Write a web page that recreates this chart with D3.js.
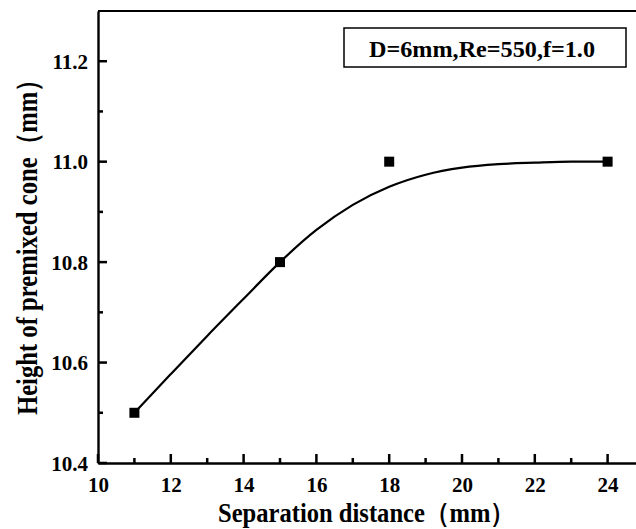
<!DOCTYPE html>
<html>
<head>
<meta charset="utf-8">
<script src="https://cdn.jsdelivr.net/npm/d3@7"></script>
<style>
  html, body { margin: 0; padding: 0; background: #fff; }
  svg { display: block; }
  text { font-family: "Liberation Serif", "Times New Roman", serif; font-weight: bold; fill: #000; }
</style>
</head>
<body>
<svg id="chart" width="636" height="529"></svg>
<script>
// Measured cone heights
const separation = [11, 15, 18, 24];
const coneHeight = [10.5, 10.8, 11.0, 11.0];

// Fitted curve through the measurements
const fitX = [11, 12, 13, 14, 15, 16, 17, 18, 19, 20, 21, 22, 23, 24];
const fitY = [10.5, 10.577, 10.653, 10.727, 10.8, 10.864, 10.914, 10.950, 10.974, 10.988, 10.995, 10.998, 11.0, 11.0];

const xTicks = [10, 12, 14, 16, 18, 20, 22, 24];
const xMinor = [11, 13, 15, 17, 19, 21, 23];
const yTicks = [10.4, 10.6, 10.8, 11.0, 11.2];
const yMinor = [10.5, 10.7, 10.9, 11.1];
const legendText = "D=6mm,Re=550,f=1.0";
const xTitle = "Separation distance（mm）";
const yTitle = "Height of premixed cone（mm）";

const svg = d3.select("#chart");
const plotLeft = 98, plotTop = 11, plotBottom = 463, plotRight = 644;

const x = d3.scaleLinear().domain([10, 25]).range([plotLeft, plotRight]);
const y = d3.scaleLinear().domain([10.4, 11.3]).range([plotBottom, plotTop]);

const g = svg.append("g");

// top frame line
g.append("line")
  .attr("x1", plotLeft).attr("x2", plotRight)
  .attr("y1", plotTop).attr("y2", plotTop)
  .attr("stroke", "#000").attr("stroke-width", 2);

// axes: domain + labels from d3, inward tick marks drawn separately
const xAxis = g.append("g").attr("transform", `translate(0,${plotBottom})`)
  .call(d3.axisBottom(x).tickValues(xTicks).tickFormat(d3.format("d"))
    .tickSize(0).tickPadding(13));
const yAxis = g.append("g").attr("transform", `translate(${plotLeft},0)`)
  .call(d3.axisLeft(y).tickValues(yTicks).tickFormat(d3.format(".1f"))
    .tickSize(0).tickPadding(10));

[xAxis, yAxis].forEach(a => {
  a.select(".domain").attr("stroke", "#000").attr("stroke-width", 2.4);
  a.selectAll(".tick line").remove();
  a.selectAll(".tick text")
    .style("font-size", "21px")
    .attr("fill", "#000");
});
xAxis.selectAll(".tick text").attr("dy", "0.75em");
yAxis.selectAll(".tick text").attr("dy", "0.34em");

// inward tick marks, major and minor
function tickRects(vals, len, horizontal) {
  return g.append("g").selectAll("rect").data(vals).join("rect")
    .attr("fill", "#000")
    .attr("x", d => horizontal ? plotLeft : x(d) - 1.25)
    .attr("y", d => horizontal ? y(d) - 1.25 : plotBottom - len)
    .attr("width", horizontal ? len : 2.5)
    .attr("height", horizontal ? 2.5 : len);
}
tickRects(xTicks, 9, false);
tickRects(xMinor, 5, false);
tickRects(yTicks, 9, true);
tickRects(yMinor, 5, true);

// fitted curve
const line = d3.line()
  .x((d, i) => x(fitX[i]))
  .y((d, i) => y(fitY[i]))
  .curve(d3.curveMonotoneX);
g.append("path")
  .datum(fitX)
  .attr("d", line)
  .attr("fill", "none")
  .attr("stroke", "#000")
  .attr("stroke-width", 2.2);

// measurement markers
const ms = 10;
g.selectAll("rect.pt").data(separation).join("rect")
  .attr("class", "pt")
  .attr("x", d => x(d) - ms / 2)
  .attr("y", (d, i) => y(coneHeight[i]) - ms / 2)
  .attr("width", ms).attr("height", ms)
  .attr("fill", "#000");

// legend box
const lg = g.append("g");
lg.append("rect")
  .attr("x", 344).attr("y", 28)
  .attr("width", 282).attr("height", 39)
  .attr("fill", "#fff").attr("stroke", "#000").attr("stroke-width", 1.5);
lg.append("text")
  .attr("x", 369).attr("y", 56.5)
  .attr("textLength", 226).attr("lengthAdjust", "spacingAndGlyphs")
  .style("font-size", "23px")
  .text(legendText);

// axis titles
svg.append("text")
  .attr("x", 218).attr("y", 522)
  .attr("textLength", 297).attr("lengthAdjust", "spacingAndGlyphs")
  .style("font-size", "27px")
  .text(xTitle);

svg.append("text")
  .attr("transform", `translate(37,415) rotate(-90)`)
  .attr("textLength", 348).attr("lengthAdjust", "spacingAndGlyphs")
  .style("font-size", "29px")
  .text(yTitle);
</script>
</body>
</html>
